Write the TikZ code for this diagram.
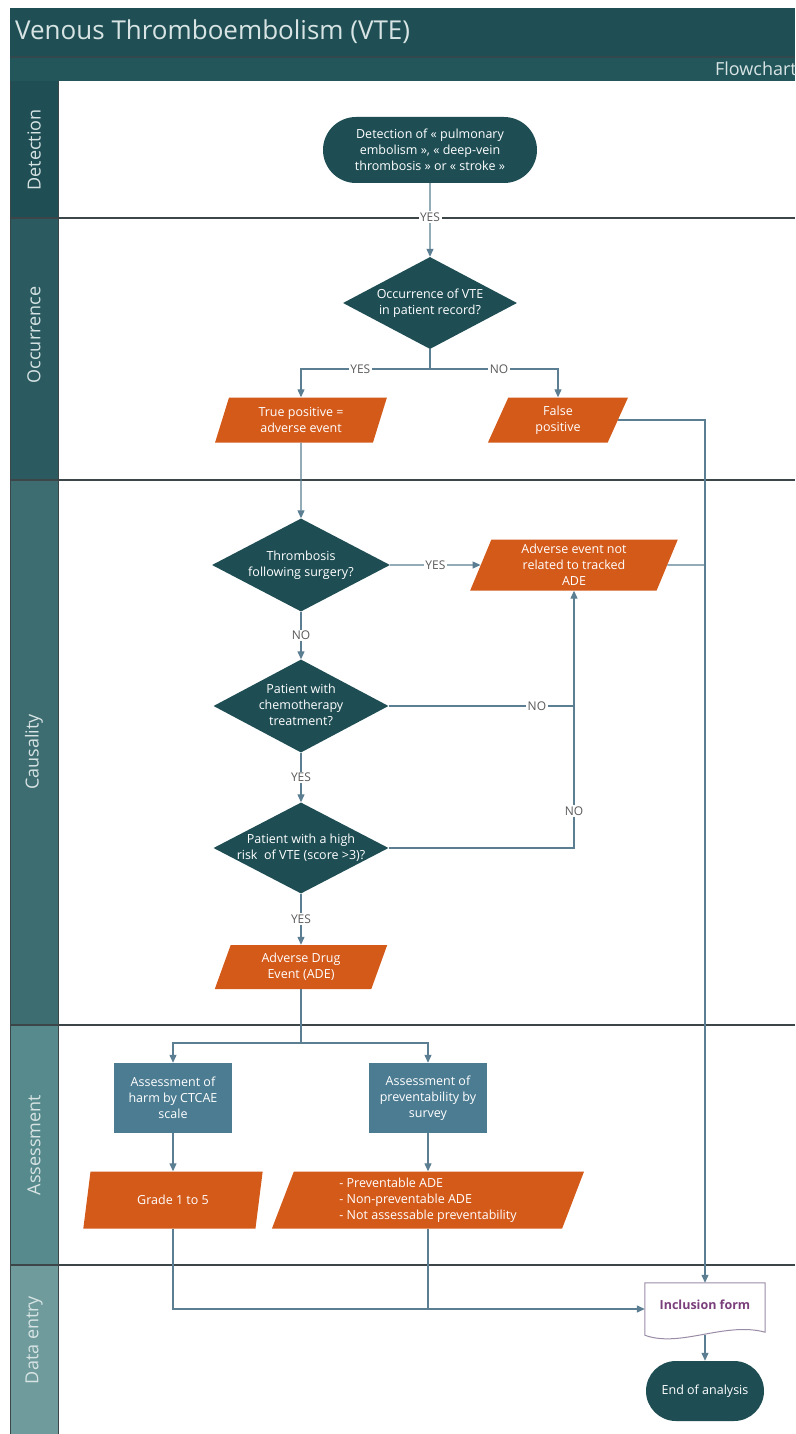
\documentclass[tikz,border=0pt]{standalone}
\usepackage{fontspec}
\setmainfont{Open Sans}
\usetikzlibrary{shapes.geometric,shapes.misc,arrows.meta,calc}

\definecolor{vtehead}{HTML}{1F4F54}
\definecolor{vtesub}{HTML}{23565B}
\definecolor{vtedark}{HTML}{1E4E54}
\definecolor{vteorange}{HTML}{D45A1A}
\definecolor{vteblue}{HTML}{4C7C92}
\definecolor{vteline}{HTML}{5C7E92}
\definecolor{vtelabel}{HTML}{5A5A5A}
\definecolor{vtesep}{HTML}{3C4548}
\definecolor{vtepale}{HTML}{D8E4E4}
\definecolor{vtedoc}{HTML}{9A8CA6}
\definecolor{vtepurple}{HTML}{7B3F7B}
\definecolor{laneA}{HTML}{1F4F54}
\definecolor{laneB}{HTML}{2B5B60}
\definecolor{laneC}{HTML}{3D6C71}
\definecolor{laneD}{HTML}{578A8C}
\definecolor{laneE}{HTML}{6F9B9C}

\newcommand{\nodefont}{\fontsize{12.5}{16}\selectfont}
\newcommand{\dtext}[1]{\makebox[0pt]{\begin{tabular}{@{}c@{}}#1\end{tabular}}}

\tikzset{
 terminal/.style={rounded rectangle, fill=vtedark, text=white, font=\nodefont, align=center, inner sep=0pt},
 decision/.style={diamond, fill=vtedark, text=white, font=\nodefont, inner sep=0pt},
 data/.style={trapezium, trapezium left angle=72, trapezium right angle=108, trapezium stretches=true, fill=vteorange, text=white, font=\nodefont, align=center, inner sep=0pt},
 process/.style={rectangle, fill=vteblue, text=white, font=\nodefont, align=center, inner sep=0pt},
 docnode/.style={rectangle, text=vtepurple, font=\nodefont\bfseries, inner sep=0pt},
 docline/.style={draw=vtedoc, fill=white, line width=1pt},
 flow/.style={draw=vteline, line width=1.2pt},
 flowarrow/.style={flow, -{Triangle[length=8pt,width=7pt]}},
 answer/.style={fill=white, text=vtelabel, font=\fontsize{12}{14}\selectfont, inner sep=1.5pt},
 lanename/.style={rotate=90, text=vtepale, font=\fontsize{18}{20}\selectfont},
 lanesep/.style={draw=vtesep, line width=1.5pt}
}

\begin{document}
\begin{tikzpicture}[x=1pt,y=-1pt]
 \useasboundingbox (0,0) rectangle (795,1434);
 \fill[white] (0,0) rectangle (795,1434);
 \fill[vtehead] (10,8) rectangle (795,57);
 \fill[vtesub] (10,57) rectangle (795,81);
 \draw[draw=vtesep!70!vtehead, line width=1.5pt] (10,57) -- (795,57);
 \node[anchor=base west, text=vtepale, font=\fontsize{26}{30}\selectfont, inner sep=0pt] (title) at (15,40) {Venous Thromboembolism (VTE)};
 \node[anchor=base east, text=vtepale, font=\fontsize{18}{20}\selectfont, inner sep=0pt] (sheet) at (797,76) {Flowchart};

 \fill[laneA] (10,81) rectangle (58,218);
 \fill[laneB] (10,218) rectangle (58,480);
 \fill[laneC] (10,480) rectangle (58,1025);
 \fill[laneD] (10,1025) rectangle (58,1265);
 \fill[laneE] (10,1265) rectangle (58,1434);
 \node[lanename] (ldetect) at (34,150) {Detection};
 \node[lanename] (loccur) at (34,335) {Occurrence};
 \node[lanename] (lcause) at (34,752) {Causality};
 \node[lanename] (lassess) at (34,1145) {Assessment};
 \node[lanename] (lentry) at (34,1340) {Data entry};
 \draw[lanesep] (10,218) -- (795,218);
 \draw[lanesep] (10,480) -- (795,480);
 \draw[lanesep] (10,1025) -- (795,1025);
 \draw[lanesep] (10,1265) -- (795,1265);
 \draw[draw=vtesep, line width=1pt] (10,81) -- (10,1434);
 \draw[draw=vtesep, line width=1pt] (58,81) -- (58,1434);

 \node[terminal, minimum width=214pt, minimum height=66pt] (detect) at (430,150) {Detection of «~pulmonary\\embolism~», «~deep-vein\\thrombosis~» or «~stroke~»};
 \node[decision, minimum width=174pt, minimum height=92pt] (occur) at (430,303) {\dtext{Occurrence of VTE\\in patient record?}};
 \node[data, minimum width=172pt, minimum height=45pt] (truepos) at (301,420) {True positive =\\adverse event};
 \node[data, minimum width=141pt, minimum height=45pt] (falsepos) at (558,420) {False\\positive};
 \node[decision, minimum width=178pt, minimum height=93pt] (surgery) at (301,565) {\dtext{Thrombosis\\following surgery?}};
 \node[data, minimum width=208pt, minimum height=51pt] (notrel) at (574,565) {Adverse event not\\related to tracked\\ADE};
 \node[decision, minimum width=175pt, minimum height=93pt] (chemo) at (301,706) {\dtext{Patient with\\chemotherapy\\treatment?}};
 \node[decision, minimum width=175pt, minimum height=91pt] (risk) at (301,848) {\dtext{Patient with a high\\risk~ of VTE (score >3)?}};
 \node[data, minimum width=173pt, minimum height=44pt] (ade) at (301,967) {Adverse Drug\\Event (ADE)};
 \node[process, minimum width=118pt, minimum height=70pt] (harm) at (173,1098) {Assessment of\\harm by CTCAE\\scale};
 \node[process, minimum width=118pt, minimum height=70pt] (prevent) at (428,1098) {Assessment of\\preventability by\\survey};
 \node[data, minimum width=180pt, minimum height=57pt] (grade) at (173,1200) {Grade 1 to 5};
 \node[data, minimum width=313pt, minimum height=57pt, align=left] (prevres) at (428,1200) {- Preventable ADE\\- Non-preventable ADE\\- Not assessable preventability};
 \node[docnode, minimum width=120pt, minimum height=52pt] (inclusion) at (705,1309) {};
 \draw[docline] (inclusion.north west) -- (inclusion.north east) -- ($(inclusion.south east)+(0,-3)$) .. controls ($(inclusion.south east)+(-40,-14)$) and ($(inclusion.south west)+(35,13)$) .. (inclusion.south west) -- cycle;
 \node[docnode] (inclusiontext) at ($(inclusion.center)+(0,-4)$) {Inclusion form};
 \node[terminal, minimum width=118pt, minimum height=60pt] (endana) at (705,1391) {End of analysis};

 \draw[flowarrow] (detect) -- node[answer, pos=0.46] (yes0) {YES} (occur);
 \coordinate (occsplit) at (430,369);
 \draw[flow] (occur) -- (occsplit);
 \draw[flowarrow] (occsplit) -| node[answer, pos=0.27] (yes1) {YES} (truepos);
 \draw[flowarrow] (occsplit) -| node[answer, pos=0.27] (no1) {NO} (falsepos);
 \draw[flowarrow] (falsepos) -| (inclusion);
 \draw[flowarrow] (truepos) -- (surgery);
 \draw[flowarrow] (surgery) -- node[answer] (yes2) {YES} (notrel);
 \draw[flow] (notrel) -- (notrel -| inclusion);
 \draw[flowarrow] (surgery) -- node[answer] (no2) {NO} (chemo);
 \draw[flowarrow] (chemo) -| node[answer, pos=0.4] (no3) {NO} (notrel);
 \draw[flow] (risk) -| node[answer, pos=0.63] (no4) {NO} (chemo -| notrel);
 \draw[flowarrow] (chemo) -- node[answer] (yes3) {YES} (risk);
 \draw[flowarrow] (risk) -- node[answer] (yes4) {YES} (ade);
 \coordinate (adesplit) at (301,1043);
 \draw[flow] (ade) -- (adesplit);
 \draw[flowarrow] (adesplit) -| (harm);
 \draw[flowarrow] (adesplit) -| (prevent);
 \draw[flowarrow] (harm) -- (grade);
 \draw[flowarrow] (prevent) -- (prevres);
 \draw[flowarrow] (grade) |- (inclusion.west);
 \draw[flow] (prevres) -- (prevres |- inclusion.west);
 \draw[flowarrow] (inclusion) -- (endana);
\end{tikzpicture}
\end{document}
